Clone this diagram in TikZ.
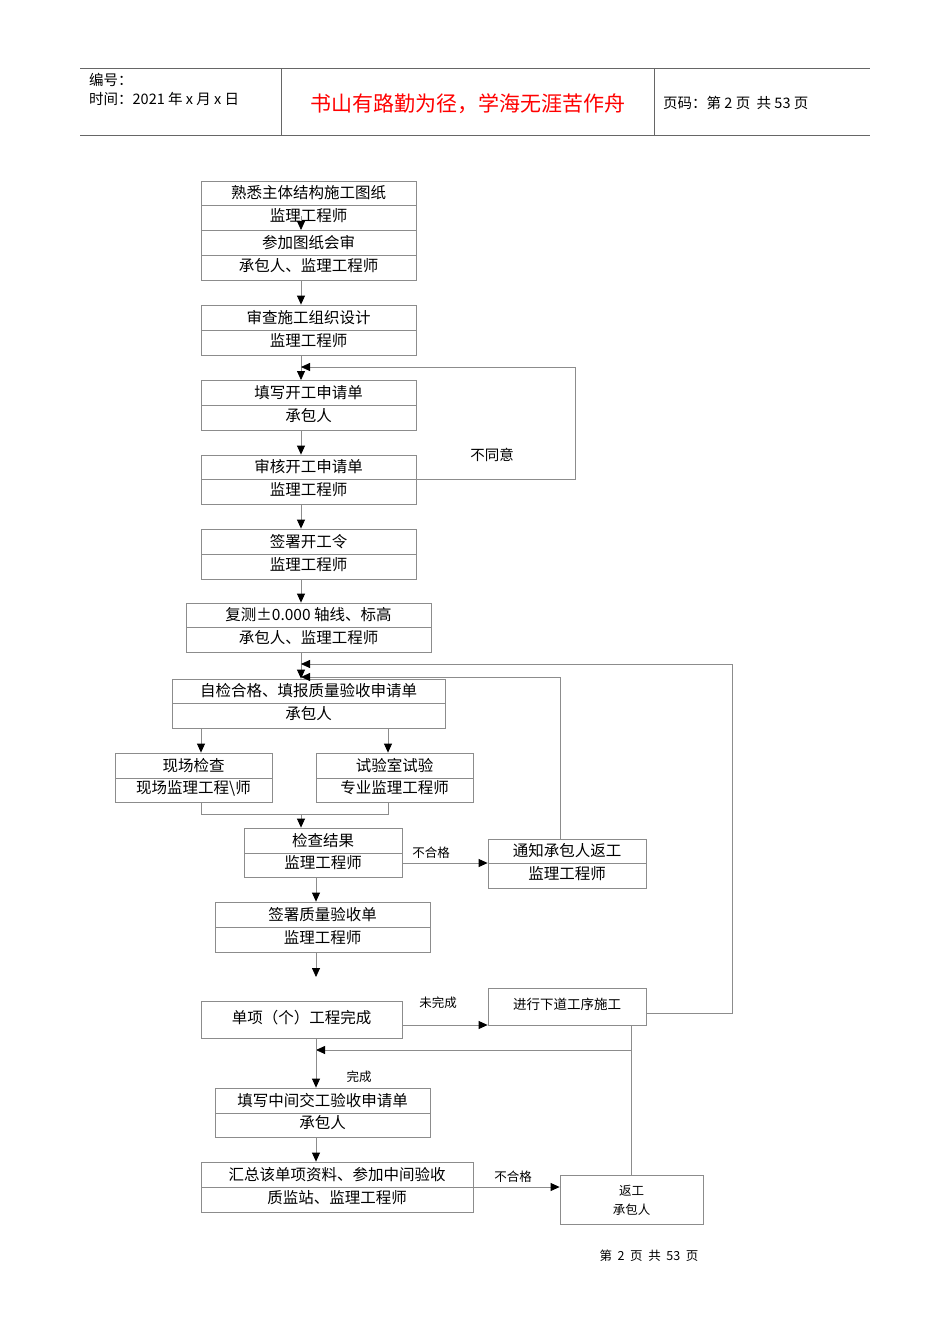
\documentclass[tikz,border=0pt]{standalone}
\usepackage{fontspec}
\setmainfont{Noto Sans CJK SC}
\usetikzlibrary{arrows.meta}
\tikzset{
 gl/.style={draw=black!45,line width=0.8pt},
 box/.style={gl,rectangle,inner sep=0pt},
 arr/.style={gl,-{Triangle[length=9pt,width=8pt,fill=black,color=black]}},
 txt/.style={font=\fontsize{15.5}{17}\selectfont,inner sep=0pt},
 lbl/.style={font=\fontsize{12.5}{14}\selectfont,inner sep=0pt},
}
\newcommand\bx[9]{%
 \node[box,minimum width={(#4-#2)*1pt},minimum height={(#5-#3)*1pt}] (#1) at ({(#2+#4)/2},{(#3+#5)/2}) {};
 \draw[gl] (#2,#6) -- (#4,#6);
 \node[txt] at ({(#2+#4)/2},{(#3+#6)/2}) {#7};
 \node[txt] at ({(#2+#4)/2},{(#6+#5)/2-2}) {#8};#9}
\begin{document}
\begin{tikzpicture}[x=1pt,y=-1pt]
\useasboundingbox (0,0) rectangle (950,1344);
% header
\draw[black!60,line width=1pt] (80,68) -- (870,68) (80,135) -- (870,135);
\draw[black!60,line width=1pt] (281,68) -- (281,135) (654,68) -- (654,135);
\node[lbl,anchor=west,font=\fontsize{14.5}{16}\selectfont] (h1) at (89,80) {编号：};
\node[lbl,anchor=west,font=\fontsize{14.5}{16}\selectfont] (h2) at (89,99) {时间：2021 年 x 月 x 日};
\node[red,inner sep=0pt,font=\fontsize{21}{23}\selectfont] (h3) at (468,104) {书山有路勤为径，学海无涯苦作舟};
\node[lbl,anchor=west,font=\fontsize{14.5}{16}\selectfont] (h4) at (663,103) {页码：第 2 页\ \ 共 53 页};
\node[lbl] (ft) at (649,1256) {第 \ 2 \ 页 \ 共 \ 53 \ 页};
% boxes
\bx{b1}{201}{181}{416}{230}{205}{熟悉主体结构施工图纸}{监理工程师}{}
\bx{b2}{201}{230}{416}{280}{255}{参加图纸会审}{承包人、监理工程师}{}
\bx{b3}{201}{305}{416}{355}{330}{审查施工组织设计}{监理工程师}{}
\bx{b4}{201}{380}{416}{430}{405}{填写开工申请单}{承包人}{}
\bx{b5}{201}{455}{416}{504}{479}{审核开工申请单}{监理工程师}{}
\bx{b6}{201}{529}{416}{579}{554}{签署开工令}{监理工程师}{}
\bx{b7}{186}{603}{431}{652}{627}{复测±0.000 轴线、标高}{承包人、监理工程师}{}
\bx{b8}{172}{679}{445}{728}{703}{自检合格、填报质量验收申请单}{承包人}{}
\bx{b9}{115}{753}{272}{802}{778}{现场检查}{现场监理工程\textbackslash 师}{}
\bx{b10}{316}{753}{473}{802}{778}{试验室试验}{专业监理工程师}{}
\bx{b11}{244}{828}{402}{877}{853}{检查结果}{监理工程师}{}
\bx{b12}{488}{839}{646}{888}{863}{通知承包人返工}{监理工程师}{}
\bx{b13}{215}{902}{430}{952}{927}{签署质量验收单}{监理工程师}{}
\node[box,minimum width=201pt,minimum height=37pt] (b14) at (301.5,1019.5) {};
\node[txt] at (301.5,1018) {单项（个）工程完成};
\node[box,minimum width=158pt,minimum height=37pt] (b15) at (567,1006.5) {};
\node[lbl,font=\fontsize{13.5}{15}\selectfont] at (567,1004) {进行下道工序施工};
\bx{b16}{215}{1088}{430}{1137}{1113}{填写中间交工验收申请单}{承包人}{}
\bx{b17}{201}{1162}{473}{1212}{1187}{汇总该单项资料、参加中间验收}{质监站、监理工程师}{}
\node[box,minimum width=143pt,minimum height=49pt] (b18) at (631.5,1199.5) {};
\node[lbl] at (631.5,1191) {返工};
\node[lbl] at (631.5,1210) {承包人};
% connectors
\draw[arr] (301,216) -- (301,230);
\draw[arr] (b2.south-|301,0) -- (b3.north-|301,0);
\draw[arr] (b3.south-|301,0) -- (301,380);
\draw[arr] (b4.south-|301,0) -- (b5.north-|301,0);
\draw[arr] (b5.south-|301,0) -- (b6.north-|301,0);
\draw[arr] (b6.south-|301,0) -- (b7.north-|301,0);
\draw[arr] (b7.south-|301,0) -- (b8.north-|301,0);
\draw[arr] (b5.east|-0,479) -- (575,479) -- (575,367) -- (301,367);
\node[lbl,font=\fontsize{14.5}{16}\selectfont] at (492,455) {不同意};
\draw[arr] (b8.south-|201,0) -- (b9.north-|201,0);
\draw[arr] (b8.south-|388,0) -- (b10.north-|388,0);
\draw[gl] (b9.south-|201,0) -- (201,814) -- (388,814) -- (b10.south-|388,0);
\draw[arr] (301,814) -- (b11.north-|301,0);
\draw[arr] (b11.east|-0,863) -- (b12.west|-0,863);
\node[lbl] at (431,853) {不合格};
\draw[arr] (b12.north-|560,0) -- (560,677) -- (301,677);
\draw[arr] (b15.east|-0,1013) -- (732,1013) -- (732,664) -- (301,664);
\draw[arr] (b11.south-|316,0) -- (b13.north-|316,0);
\coordinate (e1) at (316,977);
\draw[arr] (b13.south-|316,0) -- (e1);
\draw[arr] (b14.east|-0,1025) -- (b15.west|-0,1025);
\node[lbl] at (438,1003) {未完成};
\draw[gl] (b15.south-|631,0) -- (b18.north-|631,0);
\draw[arr] (631,1050) -- (316,1050);
\draw[arr] (b14.south-|316,0) -- (b16.north-|316,0);
\node[lbl] at (359,1077) {完成};
\draw[arr] (b16.south-|316,0) -- (b17.north-|316,0);
\draw[arr] (b17.east|-0,1187) -- (b18.west|-0,1187);
\node[lbl] at (513,1177) {不合格};
\end{tikzpicture}
\end{document}
